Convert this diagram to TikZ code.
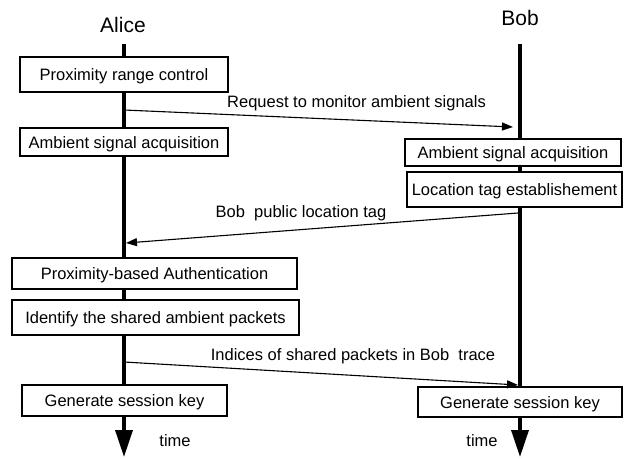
\documentclass[tikz,border=0pt]{standalone}
\usepackage{fontspec}
\setmainfont{Liberation Sans}
\usetikzlibrary{arrows.meta}

\begin{document}
\begin{tikzpicture}[
  x=1pt, y=-1pt,
  font=\fontsize{16.5}{19}\selectfont,
  box/.style={draw, fill=white, line width=1.1pt, inner sep=0pt, text height=12pt, text depth=0pt},
  life/.style={line width=3.5pt, -{Triangle[length=27pt,width=17pt]}},
  msg/.style={line width=1.1pt, -{Triangle[length=11pt,width=8pt]}},
  who/.style={font=\fontsize{21}{24}\selectfont}
]
\useasboundingbox (0,0) rectangle (624,458);

% the two actors and their time axes
\node[who] (alice) at (123,25) {Alice};
\node[who] (bob) at (520,18) {Bob};
\coordinate (atop) at (124,44);
\coordinate (abot) at (124,457);
\coordinate (btop) at (520,44);
\coordinate (bbot) at (520,457);
\draw[life] (atop) -- (abot);
\draw[life] (btop) -- (bbot);
\node (atime) at (175,441) {time};
\node (btime) at (482,441) {time};

% Alice side
\node[box, minimum width=208pt, minimum height=35pt] (range) at (124,74.5) {Proximity range control};
\node[box, minimum width=208pt, minimum height=28pt] (aacq) at (124,142) {Ambient signal acquisition};
\node[box, minimum width=285pt, minimum height=31pt] (auth) at (154.5,273.5) {Proximity-based Authentication};
\node[box, minimum width=287pt, minimum height=35pt] (ident) at (155.5,317.5) {Identify the shared ambient packets};
\node[box, minimum width=205pt, minimum height=31pt] (akey) at (124.5,400.5) {Generate session key};

% Bob side
\node[box, minimum width=216pt, minimum height=27pt] (bacq) at (513,152.5) {Ambient signal acquisition};
\node[box, minimum width=215pt, minimum height=35pt] (tag) at (514.5,189.5) {Location tag establishement};
\node[box, minimum width=204pt, minimum height=30pt] (bkey) at (520,402) {Generate session key};

% messages
\coordinate (m1a) at (124,110);
\coordinate (m1b) at (513,127);
\draw[msg] (m1a) -- (m1b);
\node (req) at (356.5,103) {Request to monitor ambient signals};

\coordinate (m2a) at (518,213);
\coordinate (m2b) at (126,243);
\draw[msg] (m2a) -- (m2b);
\node (pub) at (301,213) {Bob\ \ public location tag};

\coordinate (m3a) at (124,362);
\coordinate (m3b) at (518,385);
\draw[msg] (m3a) -- (m3b);
\node (idx) at (353,356) {Indices of shared packets in Bob\ \ trace};
\end{tikzpicture}
\end{document}
